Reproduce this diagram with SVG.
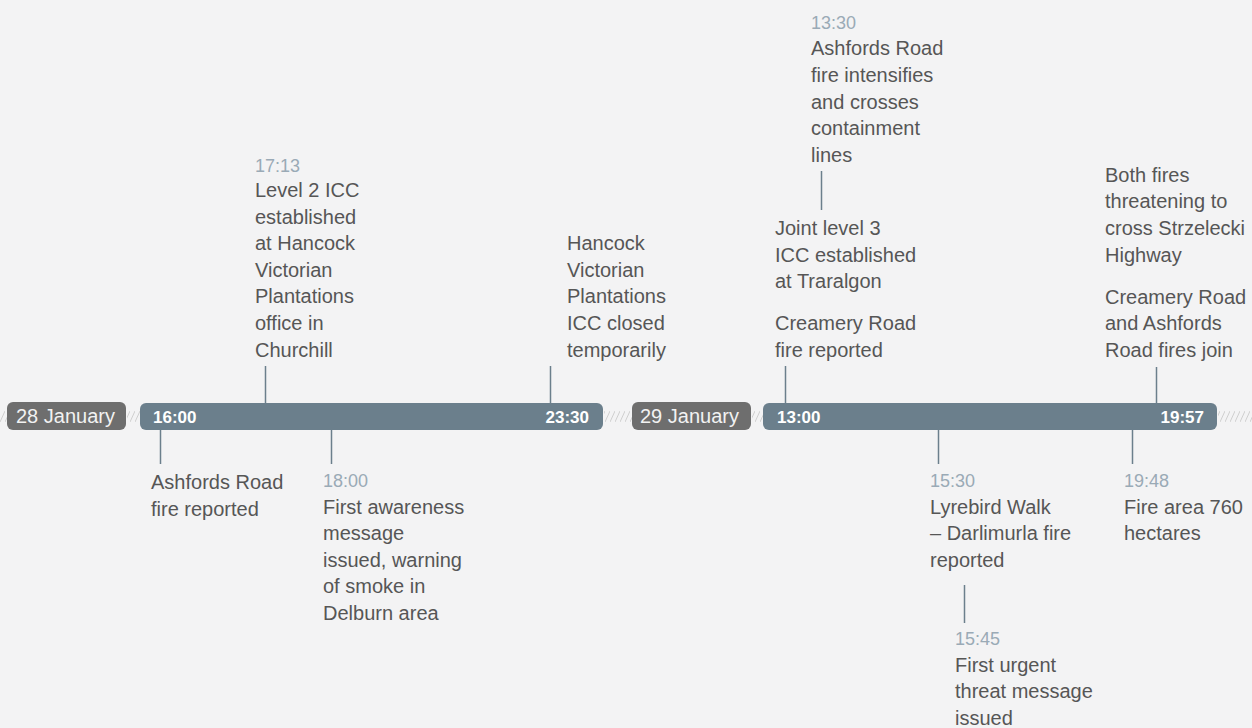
<svg xmlns="http://www.w3.org/2000/svg" width="1252" height="728" viewBox="0 0 1252 728">
  <defs>
    <style>
      .txt { font-family: "Liberation Sans", Arial, sans-serif; font-size: 20px; fill: #565656; }
      .time { font-family: "Liberation Sans", Arial, sans-serif; font-size: 18px; fill: #9aaab6; }
      .bar { fill: #6b7f8c; }
      .pill { fill: #6e6e6e; }
      .barlbl { font-family: "Liberation Sans", Arial, sans-serif; font-size: 17px; font-weight: bold; fill: #ffffff; }
      .pilllbl { font-family: "Liberation Sans", Arial, sans-serif; font-size: 20px; fill: #f2f2f2; }
      .conn line { stroke: #6b7f8c; stroke-width: 1.5; }
    </style>
    <pattern id="hatch" patternUnits="userSpaceOnUse" x="0" y="411" width="5" height="11">
      <path d="M0 11 L5 0" stroke="#cfcfcf" stroke-width="1" fill="none"/>
    </pattern>
  </defs>

  <rect width="1252" height="728" fill="#f3f3f4"/>

  <!-- hatch gaps -->
  <g id="hatches" fill="url(#hatch)">
    <rect x="0" y="411" width="7" height="11"/>
    <rect x="127" y="411" width="13" height="11"/>
    <rect x="604" y="411" width="28" height="11"/>
    <rect x="752" y="411" width="11" height="11"/>
    <rect x="1218" y="411" width="34" height="11"/>
  </g>

  <!-- day 1 -->
  <g id="day28">
    <rect class="pill" x="7" y="402" width="119" height="28" rx="6"/>
    <text class="pilllbl" x="16" y="423">28 January</text>
  </g>
  <g id="bar1">
    <rect class="bar" x="140" y="403" width="463" height="27" rx="6"/>
    <text class="barlbl" x="153" y="423">16:00</text>
    <text class="barlbl" x="589" y="423" text-anchor="end">23:30</text>
  </g>

  <!-- day 2 -->
  <g id="day29">
    <rect class="pill" x="632" y="402" width="119" height="28" rx="6"/>
    <text class="pilllbl" x="640" y="423">29 January</text>
  </g>
  <g id="bar2">
    <rect class="bar" x="763" y="403" width="454" height="27" rx="6"/>
    <text class="barlbl" x="777" y="423">13:00</text>
    <text class="barlbl" x="1204" y="423" text-anchor="end">19:57</text>
  </g>

  <!-- connectors -->
  <g id="connectors" class="conn">
    <line x1="265.5" y1="366" x2="265.5" y2="403"/>
    <line x1="550.5" y1="366" x2="550.5" y2="403"/>
    <line x1="160.5" y1="430" x2="160.5" y2="464"/>
    <line x1="331.5" y1="430" x2="331.5" y2="464"/>
    <line x1="785.5" y1="366" x2="785.5" y2="403"/>
    <line x1="821.5" y1="171" x2="821.5" y2="210"/>
    <line x1="938.5" y1="430" x2="938.5" y2="464"/>
    <line x1="964.5" y1="585" x2="964.5" y2="623"/>
    <line x1="1132.5" y1="430" x2="1132.5" y2="464"/>
    <line x1="1156.5" y1="367" x2="1156.5" y2="403"/>
  </g>

  <!-- events above -->
  <g id="ev-1713">
    <text class="time" x="255" y="172">17:13</text>
    <text class="txt" x="255" y="197">Level 2 ICC</text>
    <text class="txt" x="255" y="223.5">established</text>
    <text class="txt" x="255" y="250">at Hancock</text>
    <text class="txt" x="255" y="276.5">Victorian</text>
    <text class="txt" x="255" y="303">Plantations</text>
    <text class="txt" x="255" y="330">office in</text>
    <text class="txt" x="255" y="356.5">Churchill</text>
  </g>
  <g id="ev-2330">
    <text class="txt" x="567" y="250">Hancock</text>
    <text class="txt" x="567" y="276.5">Victorian</text>
    <text class="txt" x="567" y="303">Plantations</text>
    <text class="txt" x="567" y="330">ICC closed</text>
    <text class="txt" x="567" y="356.5">temporarily</text>
  </g>
  <g id="ev-1330">
    <text class="time" x="811" y="29">13:30</text>
    <text class="txt" x="811" y="55">Ashfords Road</text>
    <text class="txt" x="811" y="82">fire intensifies</text>
    <text class="txt" x="811" y="108.5">and crosses</text>
    <text class="txt" x="811" y="135">containment</text>
    <text class="txt" x="811" y="161.5">lines</text>
  </g>
  <g id="ev-1300">
    <text class="txt" x="775" y="235">Joint level 3</text>
    <text class="txt" x="775" y="261.5">ICC established</text>
    <text class="txt" x="775" y="288">at Traralgon</text>
    <text class="txt" x="775" y="330">Creamery Road</text>
    <text class="txt" x="775" y="356.5">fire reported</text>
  </g>
  <g id="ev-1957">
    <text class="txt" x="1105" y="181.5">Both fires</text>
    <text class="txt" x="1105" y="208">threatening to</text>
    <text class="txt" x="1105" y="235">cross Strzelecki</text>
    <text class="txt" x="1105" y="261.5">Highway</text>
    <text class="txt" x="1105" y="303.5">Creamery Road</text>
    <text class="txt" x="1105" y="330">and Ashfords</text>
    <text class="txt" x="1105" y="356.5">Road fires join</text>
  </g>

  <!-- events below -->
  <g id="ev-1600">
    <text class="txt" x="151" y="489">Ashfords Road</text>
    <text class="txt" x="151" y="516">fire reported</text>
  </g>
  <g id="ev-1800">
    <text class="time" x="323" y="487">18:00</text>
    <text class="txt" x="323" y="513.5">First awareness</text>
    <text class="txt" x="323" y="540">message</text>
    <text class="txt" x="323" y="566.5">issued, warning</text>
    <text class="txt" x="323" y="593">of smoke in</text>
    <text class="txt" x="323" y="619.5">Delburn area</text>
  </g>
  <g id="ev-1530">
    <text class="time" x="930" y="487">15:30</text>
    <text class="txt" x="930" y="513.5">Lyrebird Walk</text>
    <text class="txt" x="930" y="540">– Darlimurla fire</text>
    <text class="txt" x="930" y="566.5">reported</text>
  </g>
  <g id="ev-1545">
    <text class="time" x="955" y="645">15:45</text>
    <text class="txt" x="955" y="671.5">First urgent</text>
    <text class="txt" x="955" y="698">threat message</text>
    <text class="txt" x="955" y="724.5">issued</text>
  </g>
  <g id="ev-1948">
    <text class="time" x="1124" y="487">19:48</text>
    <text class="txt" x="1124" y="513.5">Fire area 760</text>
    <text class="txt" x="1124" y="540">hectares</text>
  </g>
</svg>
